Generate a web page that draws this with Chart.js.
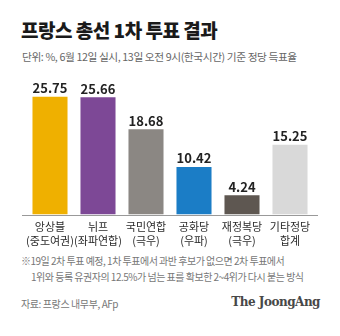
<!DOCTYPE html>
<html>
<head>
<meta charset="utf-8">
<script src="https://cdn.jsdelivr.net/npm/chart.js@4.4.0/dist/chart.umd.min.js"></script>
<style>
body{margin:0;background:#fff;width:340px;height:336px;overflow:hidden;position:relative;font-family:"Noto Sans CJK KR","Noto Sans",sans-serif}
.t{position:absolute;white-space:nowrap}
#title{left:21px;top:16px;font-size:19px;font-weight:900;color:#1a1a1a;letter-spacing:-0.5px}
#sub{left:22px;top:49px;font-size:10.7px;color:#666;letter-spacing:-0.4px}
#note1{left:21px;top:253px;font-size:10px;color:#777;letter-spacing:-0.5px}
#note2{left:31px;top:269px;font-size:10px;color:#777;letter-spacing:-0.5px}
#src{left:21px;top:296px;font-size:10px;color:#777;letter-spacing:-0.4px}
#logo{right:20px;top:295px;font-size:12px;font-weight:bold;color:#484848;font-family:"DejaVu Serif","Liberation Serif",serif;letter-spacing:-0.5px}
#wrap{position:absolute;left:0;top:66px;width:340px;height:187px}
</style>
</head>
<body>
<div class="t" id="title">프랑스 총선 1차 투표 결과</div>
<div class="t" id="sub">단위: %, 6월 12일 실시, 13일 오전 9시(한국시간) 기준 정당 득표율</div>
<div id="wrap"><canvas id="chart"></canvas></div>
<div class="t" id="note1">※19일 2차 투표 예정, 1차 투표에서 과반 후보가 없으면 2차 투표에서</div>
<div class="t" id="note2">1위와 등록 유권자의 12.5%가 넘는 표를 확보한 2~4위가 다시 붙는 방식</div>
<div class="t" id="src">자료: 프랑스 내무부, AFp</div>
<div class="t" id="logo">The JoongAng</div>
<script>
const parties = [
    ["앙상블", "(중도여권)"],
    ["뉘프", "(좌파연합)"],
    ["국민연합", "(극우)"],
    ["공화당", "(우파)"],
    ["재정복당", "(극우)"],
    ["기타정당", "합계"]
]
const shares = [25.75, 25.66, 18.68, 10.42, 4.24, 15.25]
const barColors = ["#EFB000", "#7D4896", "#8B8783", "#1B7DC6", "#5E5751", "#D9D9D9"]

// value labels above each bar
const valueLabels = {
    id: "valueLabels",
    afterDatasetsDraw(chart){
        const ctx = chart.ctx
        const meta = chart.getDatasetMeta(0)
        ctx.save()
        ctx.font = "bold 13px 'Noto Sans CJK KR', sans-serif"
        ctx.fillStyle = "#222"
        ctx.textAlign = "center"
        ctx.textBaseline = "bottom"
        meta.data.forEach((bar, i) => {
            ctx.fillText(shares[i].toFixed(2), bar.x, bar.y - 2)
        })
        ctx.restore()
    }
}

// baseline a bit wider than the plot area
const baseLine = {
    id: "baseLine",
    afterDatasetsDraw(chart){
        const ctx = chart.ctx
        const y = Math.round(chart.scales.y.getPixelForValue(0))
        ctx.save()
        ctx.strokeStyle = "#999"
        ctx.lineWidth = 1
        ctx.beginPath()
        ctx.moveTo(22, y + 0.5)
        ctx.lineTo(318, y + 0.5)
        ctx.stroke()
        ctx.restore()
    }
}

const config = {
    type: "bar",
    data: {
        labels: parties,
        datasets: [{
            data: shares,
            backgroundColor: barColors,
            categoryPercentage: 0.73,
            barPercentage: 1
        }]
    },
    options: {
        responsive: true,
        maintainAspectRatio: false,
        animation: false,
        layout: {padding: {left: 26, right: 26, top: 0, bottom: 0}},
        plugins: {
            legend: {display: false},
            tooltip: {enabled: false}
        },
        scales: {
            x: {
                grid: {display: false, drawTicks: false},
                border: {display: false},
                ticks: {
                    color: "#2a2a2a",
                    padding: 6,
                    font: {size: 11, family: "'Noto Sans CJK KR', sans-serif", lineHeight: 1.2},
                    maxRotation: 0,
                    autoSkip: false
                }
            },
            y: {
                display: false,
                min: 0,
                max: 32.5
            }
        }
    },
    plugins: [valueLabels, baseLine]
}
new Chart(document.getElementById("chart"), config)
</script>
</body>
</html>
